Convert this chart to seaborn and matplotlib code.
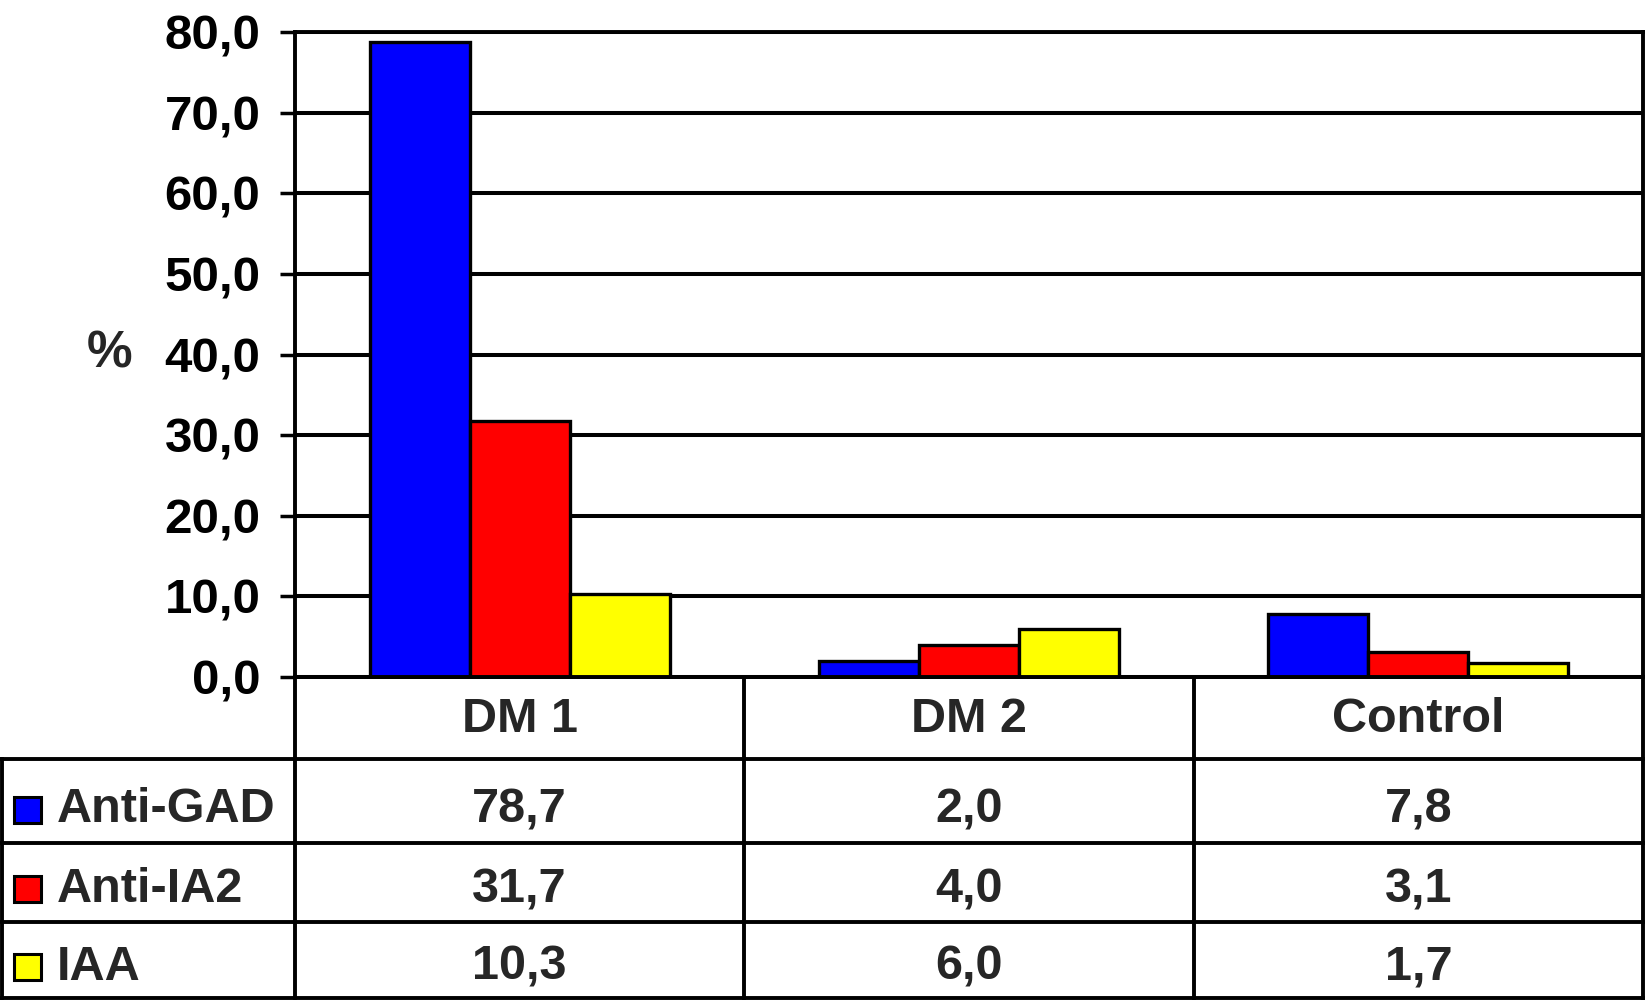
import numpy as np
import pandas as pd
import matplotlib
matplotlib.use("Agg")
import matplotlib.pyplot as plt
from matplotlib.patches import Rectangle
import seaborn as sns

# ---- data ----
categories = ["DM 1", "DM 2", "Control"]
series_names = ["Anti-GAD", "Anti-IA2", "IAA"]
anti_gad = [78.7, 2.0, 7.8]
anti_ia2 = [31.7, 4.0, 3.1]
iaa = [10.3, 6.0, 1.7]
series_values = [anti_gad, anti_ia2, iaa]
y_ticks = [0, 10, 20, 30, 40, 50, 60, 70, 80]
y_tick_labels = ["0,0", "10,0", "20,0", "30,0", "40,0", "50,0", "60,0", "70,0", "80,0"]
colors = ["#0000FF", "#FF0000", "#FFFF00"]

rows = []
for s, vals in zip(series_names, series_values):
    for c, v in zip(categories, vals):
        rows.append({"cat": c, "series": s, "value": v})
df = pd.DataFrame(rows)

sns.set_theme(style="white")
plt.rcParams["font.family"] = ["Liberation Sans", "DejaVu Sans"]
plt.rcParams["font.weight"] = "bold"

W, H = 1646, 1007
fig = plt.figure(figsize=(W / 100, H / 100), dpi=100)
fig.patch.set_facecolor("white")

ax_l, ax_r, ax_top, ax_bot = 295, 1643, 32, 677
ax = fig.add_axes([ax_l / W, 1 - ax_bot / H, (ax_r - ax_l) / W, (ax_bot - ax_top) / H])

sns.barplot(data=df, x="cat", y="value", hue="series", order=categories,
            hue_order=series_names, palette=colors, width=0.667,
            edgecolor="black", linewidth=2.4, saturation=1, legend=False, ax=ax,
            zorder=3)

ax.set_ylim(0, 80)
ax.set_xlim(-0.5, 2.5)
ax.set_yticks(y_ticks)
ax.set_yticklabels(y_tick_labels, fontsize=35.5, fontweight="bold")
ax.set_xticks([])
ax.set_xlabel("")
ax.yaxis.grid(True, color="black", linewidth=2.9, zorder=0)
ax.set_axisbelow(True)
ax.tick_params(axis="y", direction="out", length=11, width=2.5, pad=14, colors="black", left=True)
for sp in ax.spines.values():
    sp.set_visible(True)
    sp.set_color("black")
    sp.set_linewidth(2.8)
ax.set_ylabel("%", rotation=0, fontsize=37, fontweight="bold", va="center", ha="center")
ax.yaxis.set_label_coords((110 - ax_l) / (ax_r - ax_l), 0.5)

# ---- data table below (pixel-based layout) ----
tb_l, tb_r = 2, 1643
row_edges = [677, 759, 843, 922, 998]
tax = fig.add_axes([tb_l / W, 1 - row_edges[-1] / H, (tb_r - tb_l) / W,
                    (row_edges[-1] - row_edges[0]) / H])
px_per_unit = (ax_r - ax_l) / 3.0
x0 = -0.5 - (ax_l - tb_l) / px_per_unit
tax.set_xlim(x0, 2.5)
tax.set_ylim(row_edges[-1], row_edges[0])
tax.axis("off")
lw = 2.8
kw = dict(color="black", linewidth=lw, clip_on=False, solid_capstyle="projecting")
tax.plot([-0.5, 2.5], [row_edges[0], row_edges[0]], **kw)
for yy in row_edges[1:]:
    tax.plot([x0, 2.5], [yy, yy], **kw)
tax.plot([x0, x0], [row_edges[1], row_edges[-1]], **kw)
for xx in [-0.5, 0.5, 1.5, 2.5]:
    tax.plot([xx, xx], [row_edges[0], row_edges[-1]], **kw)

fs = 35
hc = (row_edges[0] + row_edges[1]) / 2
for i, c in enumerate(categories):
    tax.text(i, hc + 1, c, ha="center", va="center", fontsize=fs, fontweight="bold")
offsets = [9, 7, 7]
for r, (s, vals, col) in enumerate(zip(series_names, series_values, colors)):
    yc = (row_edges[r + 1] + row_edges[r + 2]) / 2 + offsets[r]
    for i, v in enumerate(vals):
        tax.text(i, yc, f"{v:.1f}".replace(".", ","), ha="center", va="center",
                 fontsize=fs, fontweight="bold")
    sq_w = 27 / px_per_unit
    tax.add_patch(Rectangle((x0 + 12 / px_per_unit, yc - 1 - 12.5), sq_w, 26,
                            facecolor=col, edgecolor="black", linewidth=2.2, clip_on=False))
    tax.text(x0 + 55 / px_per_unit, yc, s, ha="left", va="center",
             fontsize=fs, fontweight="bold")

fig.savefig("out.png", dpi=100, facecolor="white")
